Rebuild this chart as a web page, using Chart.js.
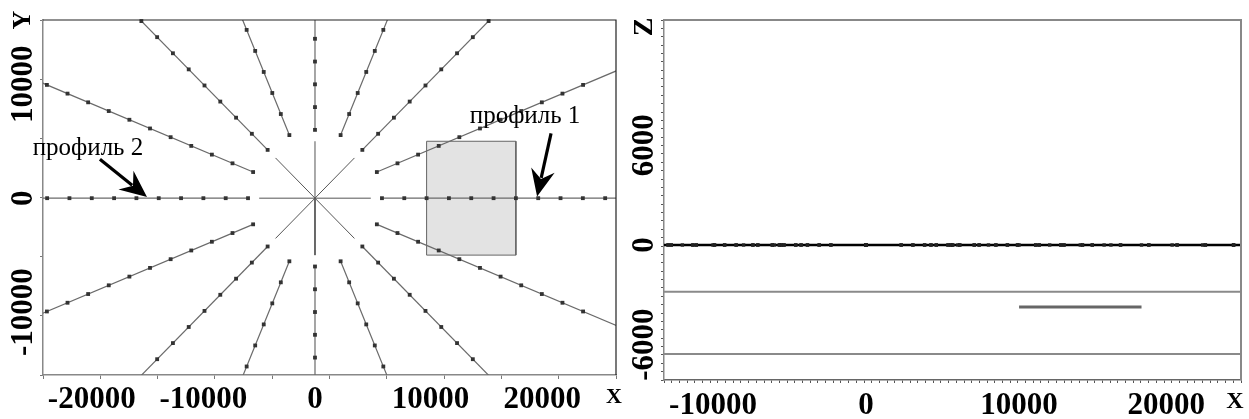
<!DOCTYPE html>
<html><head><meta charset="utf-8">
<script src="https://cdn.jsdelivr.net/npm/chart.js@4.4.1/dist/chart.umd.min.js"></script>
<style>
html,body{margin:0;padding:0;background:#fff;width:1249px;height:419px;overflow:hidden}
#left{position:absolute;left:0;top:0}
#right{position:absolute;left:625px;top:0}
</style></head><body>
<canvas id="left" width="625" height="419"></canvas>
<canvas id="right" width="624" height="419"></canvas>
<script>
// ---------- data: plan view (left) ----------
const rayAnglesDeg = [0, 22.5, 45, 67.5, 90, 112.5, 135, 157.5, 180, 202.5, 225, 247.5, 270, 292.5, 315, 337.5];
const stationRadii = [6000, 8000, 10000, 12000, 14000, 16000, 18000, 20000, 22000, 24000, 26000];
const rayLineRadii = [6000, 32000];
const starAnglesDeg = [0, 45, 90, 135, 180, 225, 270, 315];
const starLineRadii = [0, 5000];
const blockX = [10000, 18000];
const blockY = [-5000, 5000];
const planXTicks = [-20000, -10000, 0, 10000, 20000];
const planYTicks = [-10000, 0, 10000];
const planXRange = [-24370, 26970];
const planYRange = [-15530, 15650];
const profileLabels = ['профиль 1', 'профиль 2'];
const profileLabelAt = [[18820, 6580], [-20340, 3770]];
const profileArrowTail = [[21150, 5700], [-19270, 3420]];
const profileArrowTip = [[19900, 150], [-15050, 100]];

// ---------- data: section view (right) ----------
const sectionXTicks = [-10000, 0, 10000, 20000];
const sectionZTicks = [-6000, 0, 6000];
const sectionXRange = [-13200, 24500];
const sectionZRange = [-8130, 13550];
const surfaceZ = 0;
const boundaryZ = [-2810, -6570];
const bodyX = [10000, 18000];
const bodyZ = -3730;

// ---------- build ----------
const rad = d => d * Math.PI / 180;
const polar = (r, a) => ({x: r * Math.cos(rad(a)), y: r * Math.sin(rad(a))});
const inPlan = p => p.x >= planXRange[0] && p.x <= planXRange[1] && p.y >= planYRange[0] && p.y <= planYRange[1];

const stations = [];
rayAnglesDeg.forEach(a => stationRadii.forEach(r => { const p = polar(r, a); if (inPlan(p)) stations.push(p); }));

const serif = '"Liberation Serif", "Times New Roman", serif';
const tickFont = 'bold 31px ' + serif;

const planDatasets = [];
rayAnglesDeg.forEach(a => planDatasets.push({
  data: rayLineRadii.map(r => polar(r, a)), showLine: true, pointRadius: 0,
  borderColor: '#6a6a6a', borderWidth: 1.2, clip: 0, order: 5
}));
starAnglesDeg.forEach(a => planDatasets.push({
  data: starLineRadii.map(r => polar(r, a)), showLine: true, pointRadius: 0,
  borderColor: '#555', borderWidth: 1, clip: 0, order: 5
}));
planDatasets.push({
  data: stations, showLine: false, pointStyle: 'rect', pointRadius: 2.7,
  backgroundColor: '#333', borderColor: '#333', borderWidth: 0, clip: 3, order: 1
});
planDatasets.push({
  data: [{x: blockX[0], y: blockY[0]}, {x: blockX[0], y: blockY[1]}, {x: blockX[1], y: blockY[1]},
         {x: blockX[1], y: blockY[0]}, {x: blockX[0], y: blockY[0]}],
  showLine: true, pointRadius: 0, fill: 'shape', backgroundColor: '#e3e3e3',
  borderColor: '#666', borderWidth: 1, tension: 0, clip: 0, order: 10
});

function fixedAxis(w, h) {
  return function (scale) { if (w !== null) scale.width = w; if (h !== null) scale.height = h; };
}

function text(ctx, s, x, y, font, rot, align, base) {
  ctx.save();
  ctx.translate(x, y);
  if (rot) ctx.rotate(rot);
  ctx.font = font; ctx.fillStyle = '#000';
  ctx.textAlign = align || 'center'; ctx.textBaseline = base || 'middle';
  ctx.fillText(s, 0, 0);
  ctx.restore();
}

function arrow(ctx, x1, y1, x2, y2) {
  const ang = Math.atan2(y2 - y1, x2 - x1);
  const L = 27, W = 12, notch = 9;
  ctx.save();
  ctx.strokeStyle = '#000'; ctx.fillStyle = '#000'; ctx.lineWidth = 3.2;
  ctx.beginPath(); ctx.moveTo(x1, y1);
  ctx.lineTo(x2 - Math.cos(ang) * (L - notch + 1), y2 - Math.sin(ang) * (L - notch + 1)); ctx.stroke();
  ctx.translate(x2, y2); ctx.rotate(ang);
  ctx.beginPath(); ctx.moveTo(0, 0); ctx.lineTo(-L, -W); ctx.lineTo(-(L - notch), 0); ctx.lineTo(-L, W);
  ctx.closePath(); ctx.fill();
  ctx.restore();
}

function frame(color, width) {
  return {
    id: 'frame',
    afterDatasetsDraw(chart) {
      const a = chart.chartArea, ctx = chart.ctx;
      ctx.save(); ctx.strokeStyle = color; ctx.lineWidth = width;
      ctx.beginPath(); ctx.moveTo(a.left, a.top); ctx.lineTo(a.right, a.top); ctx.lineTo(a.right, a.bottom); ctx.stroke();
      ctx.restore();
    }
  };
}

const planLabels = {
  id: 'planLabels',
  afterDraw(chart) {
    const ctx = chart.ctx, xs = chart.scales.x, ys = chart.scales.y;
    planXTicks.forEach(v => text(ctx, String(v), xs.getPixelForValue(v) + (v > 0 ? 4 : 0), 400, tickFont));
    planYTicks.forEach(v => text(ctx, String(v), 24, ys.getPixelForValue(v), tickFont, -Math.PI / 2));
    text(ctx, 'X', 614, 397, 'bold 22px ' + serif);
    text(ctx, 'Y', 23, 20, 'bold 26px ' + serif, -Math.PI / 2);
    profileLabels.forEach((s, i) => {
      text(ctx, s, xs.getPixelForValue(profileLabelAt[i][0]), ys.getPixelForValue(profileLabelAt[i][1]),
           '25px ' + serif, 0, 'center', 'alphabetic');
      arrow(ctx, xs.getPixelForValue(profileArrowTail[i][0]), ys.getPixelForValue(profileArrowTail[i][1]),
            xs.getPixelForValue(profileArrowTip[i][0]), ys.getPixelForValue(profileArrowTip[i][1]));
    });
  }
};

const common = {
  responsive: false, maintainAspectRatio: false, animation: false, devicePixelRatio: 1,
  plugins: {legend: {display: false}, tooltip: {enabled: false}},
  elements: {line: {tension: 0}}
};

new Chart(document.getElementById('left'), {
  type: 'scatter',
  data: {datasets: planDatasets},
  options: Object.assign({}, common, {
    layout: {padding: {top: 20, right: 9, left: 0, bottom: 0}},
    scales: {
      x: {type: 'linear', min: planXRange[0], max: planXRange[1],
          ticks: {display: false, stepSize: 5000, includeBounds: false},
          grid: {drawOnChartArea: false, drawTicks: true, tickLength: 4, color: '#777'},
          border: {display: true, color: '#888', width: 1.5},
          afterFit: fixedAxis(null, 44)},
      y: {type: 'linear', min: planYRange[0], max: planYRange[1],
          ticks: {display: false, stepSize: 5000, includeBounds: false},
          grid: {drawOnChartArea: false, drawTicks: true, tickLength: 3, color: '#777'},
          border: {display: true, color: '#888', width: 1.5},
          afterFit: fixedAxis(43, null)}
    }
  }),
  plugins: [frame('#222', 1.2), planLabels]
});

// ---------- section ----------
const sectionDatasets = [
  {data: [{x: sectionXRange[0], y: boundaryZ[0]}, {x: sectionXRange[1], y: boundaryZ[0]}],
   showLine: true, pointRadius: 0, borderColor: '#8a8a8a', borderWidth: 2, clip: 0, order: 5},
  {data: [{x: sectionXRange[0], y: boundaryZ[1]}, {x: sectionXRange[1], y: boundaryZ[1]}],
   showLine: true, pointRadius: 0, borderColor: '#8a8a8a', borderWidth: 2, clip: 0, order: 5},
  {data: [{x: bodyX[0], y: bodyZ}, {x: bodyX[1], y: bodyZ}],
   showLine: true, pointRadius: 0, borderColor: '#666', borderWidth: 3, clip: 0, order: 4},
  {data: [{x: sectionXRange[0], y: surfaceZ}, {x: sectionXRange[1], y: surfaceZ}],
   showLine: true, pointRadius: 0, borderColor: '#000', borderWidth: 2.5, clip: 0, order: 3},
  {data: stations.map(p => ({x: p.x, y: surfaceZ})), showLine: false, pointStyle: 'rect', pointRadius: 2.4,
   backgroundColor: '#222', borderWidth: 0, clip: 0, order: 1}
];

const sectionLabels = {
  id: 'sectionLabels',
  afterDraw(chart) {
    const ctx = chart.ctx, xs = chart.scales.x, ys = chart.scales.y;
    sectionXTicks.forEach(v => text(ctx, String(v), xs.getPixelForValue(v) + (v === 20000 ? -6 : 0), 406, tickFont));
    sectionZTicks.forEach(v => text(ctx, String(v), 20, ys.getPixelForValue(v), tickFont, -Math.PI / 2));
    text(ctx, 'X', 610, 402, 'bold 24px ' + serif);
    text(ctx, 'Z', 20, 27, 'bold 28px ' + serif, -Math.PI / 2);
  }
};

new Chart(document.getElementById('right'), {
  type: 'scatter',
  data: {datasets: sectionDatasets},
  options: Object.assign({}, common, {
    layout: {padding: {top: 20, right: 8, left: 0, bottom: 0}},
    scales: {
      x: {type: 'linear', min: sectionXRange[0], max: sectionXRange[1],
          ticks: {display: false, stepSize: 500, includeBounds: false},
          grid: {drawOnChartArea: false, drawTicks: true, tickLength: 3, color: '#555'},
          border: {display: true, color: '#666', width: 1.5},
          afterFit: fixedAxis(null, 39)},
      y: {type: 'linear', min: sectionZRange[0], max: sectionZRange[1],
          ticks: {display: false, stepSize: 500, includeBounds: false},
          grid: {drawOnChartArea: false, drawTicks: true, tickLength: 3, color: '#555'},
          border: {display: true, color: '#888', width: 1.5},
          afterFit: fixedAxis(39, null)}
    }
  }),
  plugins: [frame('#888', 2), sectionLabels]
});
</script>
</body></html>
